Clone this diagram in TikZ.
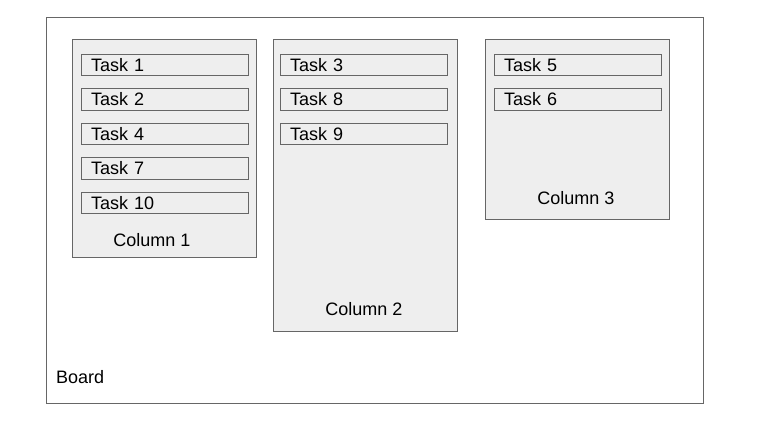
\documentclass[tikz,border=0pt]{standalone}
\usepackage{fontspec}
\setmainfont{Liberation Sans}
\usepackage{xcolor}
\usetikzlibrary{positioning}

\definecolor{boxline}{HTML}{666666}
\definecolor{boxfill}{HTML}{EEEEEE}

\tikzset{
  board/.style={draw=boxline, line width=1pt, anchor=north west, inner sep=0pt, outer sep=0pt},
  column/.style={draw=boxline, fill=boxfill, line width=1pt, anchor=north west, minimum width=184pt, inner sep=0pt, outer sep=0pt},
  task/.style={draw=boxline, fill=boxfill, line width=1pt, minimum width=167pt, minimum height=21.5pt,
    text width=147pt, text height=12pt, text depth=0pt, inner xsep=10pt, inner ysep=0pt, align=left, outer sep=0pt},
  colname/.style={anchor=base, inner sep=0pt}
}

\begin{document}
\begin{tikzpicture}[x=1pt, y=-1pt, font=\fontsize{18}{21}\selectfont, node distance=13pt]
\useasboundingbox (0,0) rectangle (764,443);

% Board
\node[board, minimum width=657pt, minimum height=386pt] (board) at (46,18) {};
\node[anchor=base west, inner sep=0pt] (boardname) at (56,383.5) {Board};

% Columns
\node[column, minimum height=218pt] (col1) at (72,40) {};
\node[column, minimum height=292pt] (col2) at (273,40) {};
\node[column, minimum height=180pt] (col3) at (485,40) {};

\node[colname] (name1) at (152,247) {Column 1};
\node[colname] (name2) at (364,315.5) {Column 2};
\node[colname] (name3) at (576,204.5) {Column 3};

% Tasks in column 1
\node[task, anchor=north west] (t1) at ([xshift=9pt, yshift=-14.5pt]col1.north west) {Task 1};
\node[task, below=of t1] (t2) {Task 2};
\node[task, below=of t2] (t4) {Task 4};
\node[task, below=of t4] (t7) {Task 7};
\node[task, below=of t7] (t10) {Task 10};

% Tasks in column 2
\node[task, anchor=north west] (t3) at ([xshift=7pt, yshift=-14.5pt]col2.north west) {Task 3};
\node[task, below=of t3] (t8) {Task 8};
\node[task, below=of t8] (t9) {Task 9};

% Tasks in column 3
\node[task, anchor=north west] (t5) at ([xshift=9pt, yshift=-14.5pt]col3.north west) {Task 5};
\node[task, below=of t5] (t6) {Task 6};

\end{tikzpicture}
\end{document}
